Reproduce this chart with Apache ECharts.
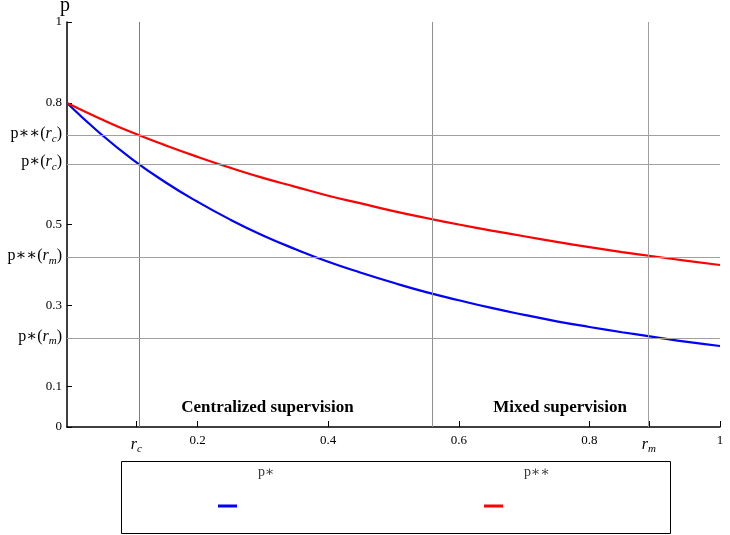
<!DOCTYPE html>
<html>
<head>
<meta charset="utf-8">
<script src="https://cdn.jsdelivr.net/npm/echarts@6/dist/echarts.min.js"></script>
<style>html,body{margin:0;padding:0;background:#fff}#c{width:730px;height:535px}</style>
</head>
<body>
<div id="c"></div>
<script>
// ---- data ----
const xValues = [0,0.05,0.1,0.15,0.2,0.25,0.3,0.35,0.4,0.45,0.5,0.55,0.6,0.65,0.7,0.75,0.8,0.85,0.9,0.95,1];
const pStar = [0.800,0.726,0.661,0.605,0.556,0.512,0.473,0.439,0.408,0.381,0.356,0.333,0.313,0.294,0.277,0.261,0.247,0.234,0.222,0.210,0.200];
const pStarStar = [0.800,0.762,0.727,0.696,0.667,0.640,0.615,0.593,0.571,0.552,0.533,0.516,0.500,0.485,0.471,0.457,0.444,0.432,0.421,0.410,0.400];
const rC = 0.106, rDiv = 0.555, rM = 0.891;
const pStarStarRc = 0.7235, pStarRc = 0.654, pStarStarRm = 0.423, pStarRm = 0.2237;
const yTickValues = [0, 0.1, 0.3, 0.5, 0.8, 1];
const xTickValues = [0.2, 0.4, 0.6, 0.8, 1];
const regionLabels = ['Centralized supervision', 'Mixed supervision'];
const regionPos = [[0.307, 0.047], [0.755, 0.047]];
const seriesNames = ['p\u2217', 'p\u2217\u2217'];

const SERIF = '"Liberation Serif","DejaVu Serif",serif';
const richSub = {
  n: {fontFamily: SERIF, fontSize: 16, color: '#000'},
  i: {fontFamily: SERIF, fontSize: 16, fontStyle: 'italic', color: '#000'},
  s: {fontFamily: SERIF, fontSize: 11, fontStyle: 'italic', color: '#000', padding: [10, 0, 0, 0]}
};
const yLabelMap = new Map([
  [pStarStarRc, '{n|p\u2217\u2217(}{i|r}{s|c}{n|)}'],
  [pStarRc, '{n|p\u2217(}{i|r}{s|c}{n|)}'],
  [pStarStarRm, '{n|p\u2217\u2217(}{i|r}{s|m}{n|)}'],
  [pStarRm, '{n|p\u2217(}{i|r}{s|m}{n|)}']
]);
const xLabelMap = new Map([[rC, '{i|r}{s|c}'], [rM, '{i|r}{s|m}']]);

const legendRich = {
  t: {fontFamily: SERIF, fontSize: 14, color: '#333', lineHeight: 16, padding: [0, 0, 0, 16]},
  e: {fontSize: 10, lineHeight: 68}
};

const chart = echarts.init(document.getElementById('c'), null, {renderer: 'canvas'});
const blueData = xValues.map((x, k) => [x, pStar[k]]);
const redData = xValues.map((x, k) => [x, pStarStar[k]]);

function legendOpt(name, left) {
  return {
    data: [name], left: left, top: 465, padding: 0,
    icon: 'rect', itemWidth: 19, itemHeight: 3,
    formatter: n => '{t|' + n + '}\n{e| }',
    textStyle: {fontFamily: SERIF, fontSize: 14, color: '#333', rich: legendRich}
  };
}

chart.setOption({
  animation: false,
  backgroundColor: '#fff',
  grid: {left: 67, right: 10, top: 22, bottom: 108, outerBoundsMode: 'none', containLabel: false},
  xAxis: {
    type: 'value', min: 0, max: 1,
    axisLine: {show: true, onZero: false, lineStyle: {color: '#000', width: 1.5}},
    axisTick: {show: true, inside: true, length: 6, lineStyle: {color: '#000'}, customValues: [rC, ...xTickValues, rM]},
    axisLabel: {
      customValues: [rC, ...xTickValues, rM],
      margin: 7,
      fontFamily: SERIF, fontSize: 13, color: '#000',
      formatter: v => xLabelMap.has(v) ? xLabelMap.get(v) : String(v),
      rich: richSub
    },
    splitLine: {show: false}
  },
  yAxis: {
    type: 'value', min: 0, max: 1,
    name: 'p', nameLocation: 'end', nameGap: 9,
    nameTextStyle: {fontFamily: SERIF, fontSize: 20, color: '#000', verticalAlign: 'middle', padding: [0, 4, 0, 0]},
    axisLine: {show: true, onZero: false, lineStyle: {color: '#000', width: 1.5}},
    axisTick: {show: true, inside: true, length: 5, lineStyle: {color: '#000'}, customValues: yTickValues},
    axisLabel: {
      customValues: [...yTickValues, pStarStarRc, pStarRc, pStarStarRm, pStarRm],
      margin: 5,
      fontFamily: SERIF, fontSize: 13, color: '#000',
      formatter: v => yLabelMap.has(v) ? yLabelMap.get(v) : String(v),
      rich: richSub
    },
    splitLine: {show: false}
  },
  legend: [legendOpt(seriesNames[0], 218), legendOpt(seriesNames[1], 484)],
  graphic: [
    {type: 'rect', shape: {x: 121.5, y: 461.5, width: 549, height: 72}, style: {fill: 'none', stroke: '#000', lineWidth: 1}, silent: true, z: 0}
  ],
  series: [
    {
      name: 'guides', type: 'line', data: [], silent: true, z: 1,
      markLine: {
        silent: true, symbol: 'none', animation: false,
        label: {show: false},
        data: [
          {xAxis: rC, lineStyle: {color: '#808080', width: 1, type: 'solid'}},
          {xAxis: rDiv, lineStyle: {color: '#909090', width: 1, type: 'solid'}},
          {xAxis: rM, lineStyle: {color: '#a0a0a0', width: 1, type: 'solid'}},
          {yAxis: pStarStarRc, lineStyle: {color: '#a0a0a0', width: 1.2, type: 'solid'}},
          {yAxis: pStarRc, lineStyle: {color: '#a0a0a0', width: 1.2, type: 'solid'}},
          {yAxis: pStarStarRm, lineStyle: {color: '#a0a0a0', width: 1.2, type: 'solid'}},
          {yAxis: pStarRm, lineStyle: {color: '#a0a0a0', width: 1.2, type: 'solid'}}
        ]
      },
      markPoint: {
        silent: true, symbol: 'circle', symbolSize: 0,
        label: {show: true, position: 'inside', fontFamily: SERIF, fontSize: 17, fontWeight: 'bold', color: '#000', formatter: p => p.name},
        data: regionLabels.map((t, k) => ({name: t, coord: regionPos[k]}))
      }
    },
    {
      name: seriesNames[0], type: 'line', data: blueData, showSymbol: false, smooth: true, z: 3,
      itemStyle: {color: '#0000ff'}, lineStyle: {color: '#0000ff', width: 2.2}
    },
    {
      name: seriesNames[1], type: 'line', data: redData, showSymbol: false, smooth: true, z: 3,
      itemStyle: {color: '#ff0000'}, lineStyle: {color: '#ff0000', width: 2.2}
    }
  ]
});
</script>
</body>
</html>
